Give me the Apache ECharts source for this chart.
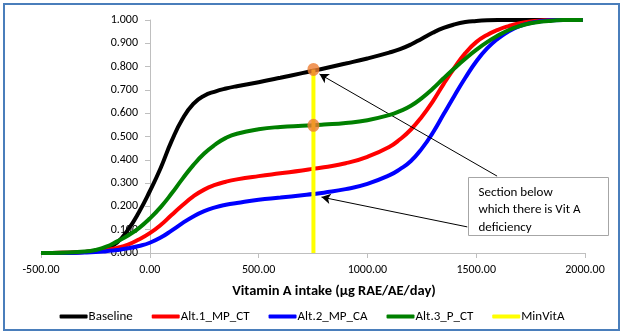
<!DOCTYPE html>
<html><head><meta charset="utf-8">
<script src="https://cdn.jsdelivr.net/npm/echarts@6/dist/echarts.min.js"></script>
<style>html,body{margin:0;padding:0;background:#fff}#c{width:624px;height:335px}</style>
</head><body><div id="c"></div>
<script>
// ---- data ----
const seriesNames = ['Baseline', 'Alt.1_MP_CT', 'Alt.2_MP_CA', 'Alt.3_P_CT', 'MinVitA'];
const xValues = [-500, -400, -300, -250, -200, -150, -100, -50, 0, 50, 100, 150, 200, 250, 300, 350, 400, 500, 600, 700, 750, 800, 900, 1000, 1100, 1150, 1200, 1250, 1300, 1350, 1400, 1450, 1500, 1550, 1600, 1650, 1700, 1750, 1800, 1850, 1900, 1990];
const baseline = [0, 0.001, 0.004, 0.01, 0.02, 0.045, 0.1, 0.175, 0.265, 0.365, 0.48, 0.575, 0.64, 0.675, 0.693, 0.706, 0.716, 0.733, 0.752, 0.772, 0.782, 0.792, 0.813, 0.835, 0.86, 0.875, 0.895, 0.92, 0.945, 0.966, 0.981, 0.991, 0.996, 0.999, 1.0, 1.0, 1.0, 1.0, 1.0, 1.0, 1.0, 1.0];
const alt1 = [0, 0.001, 0.004, 0.008, 0.013, 0.022, 0.036, 0.058, 0.085, 0.12, 0.163, 0.205, 0.243, 0.272, 0.292, 0.306, 0.316, 0.33, 0.342, 0.354, 0.361, 0.368, 0.385, 0.413, 0.455, 0.488, 0.53, 0.585, 0.65, 0.725, 0.795, 0.858, 0.905, 0.936, 0.958, 0.974, 0.986, 0.994, 0.998, 1.0, 1.0, 1.0];
const alt2 = [0, 0, 0.002, 0.004, 0.008, 0.013, 0.02, 0.03, 0.044, 0.066, 0.096, 0.128, 0.157, 0.18, 0.196, 0.207, 0.215, 0.229, 0.238, 0.248, 0.253, 0.259, 0.274, 0.297, 0.333, 0.36, 0.395, 0.448, 0.515, 0.595, 0.675, 0.752, 0.822, 0.878, 0.92, 0.952, 0.974, 0.987, 0.995, 0.999, 1.0, 1.0];
const alt3 = [0, 0.001, 0.006, 0.013, 0.027, 0.05, 0.075, 0.107, 0.148, 0.197, 0.255, 0.318, 0.377, 0.427, 0.465, 0.494, 0.512, 0.531, 0.541, 0.546, 0.548, 0.551, 0.558, 0.57, 0.592, 0.609, 0.632, 0.665, 0.705, 0.75, 0.793, 0.834, 0.872, 0.905, 0.933, 0.957, 0.974, 0.986, 0.993, 0.997, 1.0, 1.0];
const minVitAX = [752, 752];
const minVitAY = [0, 0.788];
const dotX = [752, 752];
const dotY = [0.788, 0.548];
const xTickValues = [-500, 0, 500, 1000, 1500, 2000];
const yTickValues = [0, 0.1, 0.2, 0.3, 0.4, 0.5, 0.6, 0.7, 0.8, 0.9, 1.0];
const xAxisTitle = 'Vitamin A intake (µg RAE/AE/day)';
const noteLines = ['Section below', 'which there is Vit A', 'deficiency'];
// arrows: [tailX, tailY, tipX, tipY] in data units
const arrow1 = [1596, 0.33, 780, 0.768];
const arrow2 = [1459, 0.112, 789, 0.24];
const seriesColors = ['#000000', '#ff0000', '#0000ff', '#008000', '#ffff00'];

// ---- chart ----
const FONT = 'Carlito, Lato, "Open Sans", sans-serif';
const chart = echarts.init(document.getElementById('c'), null, {renderer: 'canvas'});
const pair = (xs, ys) => xs.map((x, i) => [x, ys[i]]);
const curves = [baseline, alt1, alt2, alt3];
const series = curves.map((ys, k) => ({
  name: seriesNames[k], type: 'line', data: pair(xValues, ys),
  smooth: 0.5, showSymbol: false, symbol: 'none',
  lineStyle: {color: seriesColors[k], width: 4}, itemStyle: {color: seriesColors[k]},
  z: 2 + k, silent: true
}));
series.push({
  name: seriesNames[4], type: 'line', data: pair(minVitAX, minVitAY), showSymbol: false, symbol: 'none',
  lineStyle: {color: seriesColors[4], width: 4}, itemStyle: {color: seriesColors[4]}, z: 7,
  markLine: {
    silent: true, symbol: ['none', 'arrow'], symbolSize: [8, 9], label: {show: false},
    lineStyle: {color: '#000', width: 1, type: 'solid'},
    data: [
      [{coord: [arrow1[0], arrow1[1]]}, {coord: [arrow1[2], arrow1[3]]}],
      [{coord: [arrow2[0], arrow2[1]]}, {coord: [arrow2[2], arrow2[3]]}]
    ]
  }
});
series.push({
  name: 'dots', type: 'scatter', data: pair(dotX, dotY), symbol: 'circle', symbolSize: [12, 13],
  itemStyle: {color: '#ed7d31'}, z: 10, silent: true
});

chart.setOption({
  backgroundColor: '#fff',
  animation: false,
  grid: {left: 41, right: 39, top: 20, bottom: 82, containLabel: false, outerBoundsMode: 'none'},
  legend: {
    data: seriesNames, bottom: 7, left: 'center', icon: 'roundRect', itemWidth: 28, itemHeight: 4, itemGap: 19,
    textStyle: {fontFamily: FONT, fontSize: 13, color: '#000', padding: [0, 0, 0, -4]}
  },
  xAxis: {
    type: 'value', min: xTickValues[0], max: xTickValues[xTickValues.length - 1], interval: 500,
    name: xAxisTitle, nameLocation: 'middle', nameGap: 31,
    nameTextStyle: {fontFamily: FONT, fontSize: 14.5, fontWeight: 'bold', color: '#000', padding: [0, 0, 0, 42]},
    axisLine: {onZero: false, lineStyle: {color: '#bfbfbf', width: 1}},
    axisTick: {show: true, inside: false, length: 5, lineStyle: {color: '#bfbfbf'}},
    axisLabel: {margin: 11, fontFamily: FONT, fontSize: 12, color: '#000', formatter: v => v.toFixed(2)},
    splitLine: {show: false}
  },
  yAxis: {
    type: 'value', min: yTickValues[0], max: yTickValues[yTickValues.length - 1], interval: 0.1,
    offset: -109,
    axisLine: {show: true, onZero: false, lineStyle: {color: '#bfbfbf', width: 1}},
    axisTick: {show: true, inside: false, length: 5, lineStyle: {color: '#bfbfbf'}},
    axisLabel: {margin: 12, fontFamily: FONT, fontSize: 12, color: '#000', formatter: v => v.toFixed(3)},
    splitLine: {show: false}
  },
  graphic: [
    {type: 'rect', shape: {x: 4, y: 4, width: 615, height: 326}, style: {fill: 'none', stroke: '#4a7ebb', lineWidth: 2}, z: 0, silent: true},
    {type: 'group', left: 468, top: 177, z: 20, children: [
      {type: 'rect', shape: {x: 0, y: 0, width: 140, height: 58}, style: {fill: '#fff', stroke: '#a6a6a6', lineWidth: 1}},
      {type: 'text', x: 10, y: 6, style: {text: noteLines.join('\n'), fontFamily: FONT, fontSize: 13, lineHeight: 17.5, fill: '#000'}}
    ]}
  ],
  series: series
});
</script>
</body></html>
